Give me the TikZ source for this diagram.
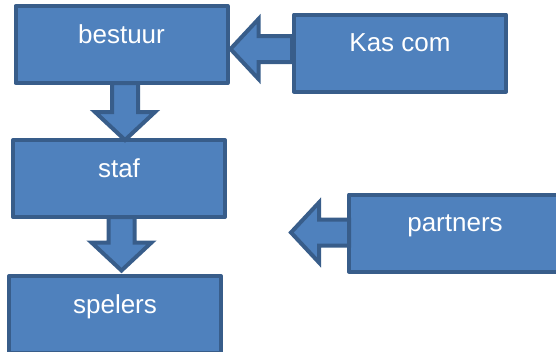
\documentclass[tikz,border=0pt]{standalone}
\usepackage{fontspec}
\setmainfont{Liberation Sans}
\usetikzlibrary{calc,positioning}
\definecolor{boxfill}{HTML}{4F81BD}
\definecolor{boxline}{HTML}{385D8A}

\tikzset{
  box/.style={draw=boxline, fill=boxfill, line width=4pt, line join=round,
    minimum width=212pt, inner xsep=0pt, inner ysep=0pt,
    text height=37pt, text depth=40pt, text=white,
    font=\fontsize{26}{30}\selectfont},
  arrowbox/.style={draw=boxline, fill=boxfill, line width=4pt, line join=miter}
}

% block arrow from #1 (tail) to #2 (tip)
\newcommand{\blockarrow}[2]{%
  \coordinate (ah) at ($(#2)!28pt!(#1)$);
  \draw[arrowbox] ($(#1)!13pt!90:(#2)$) -- ($(ah)!13pt!90:(#2)$) -- ($(ah)!30pt!90:(#2)$)
    -- (#2) -- ($(ah)!30pt!-90:(#2)$) -- ($(ah)!13pt!-90:(#2)$) -- ($(#1)!13pt!-90:(#2)$) -- cycle;}

\begin{document}
\begin{tikzpicture}[x=1pt, y=-1pt]
    \useasboundingbox (0,0) rectangle (556,351);

    \node[box] (bestuur) at (121.5,44.5) {bestuur};
    \node[box] (kas) at (400,53) {Kas com};
    \node[box] (staf) at (119,178.5) {staf};
    \node[box] (spelers) at (115,314.5) {spelers};
    \node[box] (partners) at (455,233) {partners};

    % arrows
    \coordinate (kastail) at ([yshift=4pt]kas.west);
    \coordinate (kastip) at ([xshift=1pt, yshift=-4.5pt]bestuur.east);
    \blockarrow{kastail}{kastip}

    \coordinate (bestail) at ([xshift=3.5pt, yshift=2pt]bestuur.south);
    \coordinate (bestip) at ([xshift=6pt, yshift=-2pt]staf.north);
    \blockarrow{bestail}{bestip}

    \coordinate (staftail) at ([xshift=2.5pt, yshift=2pt]staf.south);
    \coordinate (staftip) at ([xshift=6.5pt, yshift=3.5pt]spelers.north);
    \blockarrow{staftail}{staftip}

    \coordinate (parttail) at ([xshift=2pt, yshift=0.5pt]partners.west);
    \coordinate (parttip) at (291,232.5);
    \blockarrow{parttail}{parttip}
\end{tikzpicture}
\end{document}
